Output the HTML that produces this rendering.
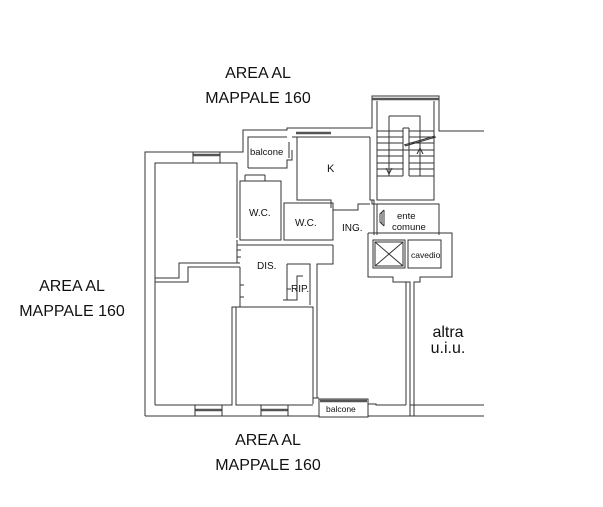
<!DOCTYPE html>
<html><head><meta charset="utf-8"><style>
html,body{margin:0;padding:0;background:#fff;}
svg{display:block;}
text{font-family:"Liberation Sans",sans-serif;fill:#111;}
</style></head><body>
<svg width="603" height="507" viewBox="0 0 603 507" xmlns="http://www.w3.org/2000/svg">
<g fill="none" stroke="#333" stroke-width="1">
<path d="M145,416 L145,152 L243,152 L243,130 L287,130 L287,128 L372,128 L372,96 L439,96 L439,131 L484,131"/>
<path d="M145,416 L484,416"/>
<path d="M155,405 L155,163 L237,163 L237,238"/>
<path d="M155,278 L179,278 L179,263 L240,263"/>
<path d="M155,282 L188,282 L188,267 L240,267"/>
<path d="M155,405 L232,405 L232,307 L240,307"/>
<path d="M248,168 L248,137 L287,137"/>
<path d="M248,168 L287,168 L287,160 L292,160 L292,150"/>
<path d="M292,137 L370,137"/>
<path d="M297,137 L297,200 L331,200 L331,208"/>
<path d="M240,181 L281,181 L281,240 L240,240 Z"/>
<path d="M245,175 L245,181 M265,175 L265,181 M245,175 L265,175"/>
<path d="M284,203 L333,203 L333,240 L284,240 Z"/>
<path d="M333,210 L358,210 L358,204 L370,204"/>
<path d="M237,245 L333,245 M237,240 L237,263"/>
<path d="M333,245 L333,264 L317,264 L317,305"/>
<path d="M287,264 L310,264 L310,305 M287,264 L287,300 M283,300 L297,300 L297,276 L303,276"/>
<path d="M240,267 L240,307 M236,307 L313,307 L313,404"/>
<path d="M236,307 L236,405 L313,405"/>
<path d="M313,398 L319,398 M368,404 L376,404 L376,405 L406,405"/>
<path d="M317,305 L317,398"/>
<path d="M370,137 L370,200 L374,200 L374,235"/>
<path d="M377,101 L377,200 L434,200 L434,101"/>
<path d="M377,150 L434,150 M377,200 L434,200"/>
<path d="M377,131 L403,131 M377,137 L403,137 M377,143 L403,143 M377,150 L403,150 M377,156 L403,156 M377,163 L403,163 M377,169 L403,169 M377,176 L403,176"/>
<path d="M409,131 L434,131 M409,137 L434,137 M409,143 L434,143 M409,150 L434,150 M409,156 L434,156 M409,163 L434,163 M409,169 L434,169 M409,176 L434,176"/>
<path d="M389,116 L420,116 L420,176 M389,116 L389,176 M403,128 L403,176 M409,128 L409,176 M403,128 L409,128"/>
<path d="M404,145 L435,136 M405,146 L436,137"/>
<path d="M389,170 L389,176 M386,168 L389,174 L392,168 M420,148 L420,160 M417,154 L420,148 L423,154"/>
<path d="M372,200 L372,204 L439,204 L439,235 M377,204 L377,235"/>
<path d="M368,233 L452,233 L452,277 L420,277 L420,282 L414,282 L414,416 M368,233 L368,277 L393,277 L393,282 L410,282 L410,416"/>
<path d="M406,282 L406,405"/>
<rect x="373" y="240" width="32" height="28"/>
<rect x="375" y="242" width="28" height="24"/>
<path d="M375,242 L403,266 M403,242 L375,266"/>
<rect x="408" y="240" width="33" height="28"/>
<path d="M384,210 L384,226 M384,210 L380,214 L380,222 L384,226 M382,212 L382,224"/>
<path d="M410,405 L484,405"/>
<rect x="319" y="399" width="49" height="18" fill="#fff"/>
</g>
<g stroke="#555" stroke-width="2.5">
<path d="M193,155 L220,155 M296,133 L331,133 M195,410 L222,410 M261,410 L288,410 M372,99 L439,99 M320,401 L367,401"/>
</g>
<g stroke="#333" stroke-width="1" fill="none">
<path d="M193,152 L193,163 M220,152 L220,163 M195,405 L195,416 M222,405 L222,416 M261,405 L261,416 M288,405 L288,416"/>
<path d="M289,142 L289,158 M237,250 L241,250 M237,257 L241,257 M240,285 L244,285 M240,297 L244,297 M287,289 L291,289"/>
</g>
<g font-size="9.5">
<text x="250" y="155">balcone</text>
<text x="327" y="172" font-size="11">K</text>
<text x="249" y="216" font-size="10">W.C.</text>
<text x="295" y="226" font-size="10">W.C.</text>
<text x="342" y="231" font-size="10">ING.</text>
<text x="257" y="269" font-size="10">DIS.</text>
<text x="291" y="292" font-size="10">RIP.</text>
<text x="397" y="219">ente</text>
<text x="392" y="230">comune</text>
<text x="411" y="258" font-size="8.5">cavedio</text>
<text x="326" y="412" font-size="8.5">balcone</text>
</g>
<g font-size="16" text-anchor="middle">
<text x="258" y="78">AREA AL</text>
<text x="258" y="103">MAPPALE 160</text>
<text x="72" y="291">AREA AL</text>
<text x="72" y="316">MAPPALE 160</text>
<text x="268" y="445">AREA AL</text>
<text x="268" y="470">MAPPALE 160</text>
<text x="448" y="337">altra</text>
<text x="448" y="353">u.i.u.</text>
</g>
</svg>
</body></html>
